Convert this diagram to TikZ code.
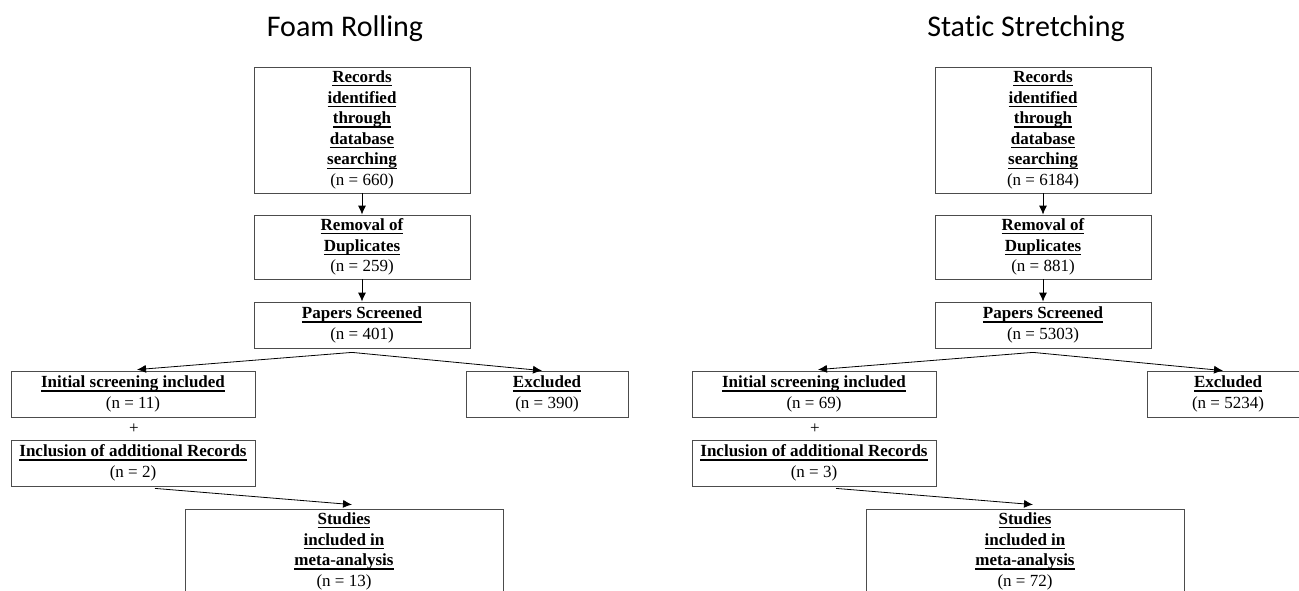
\documentclass[tikz,border=0pt]{standalone}
\usepackage{fontspec}
\setmainfont{Liberation Serif}
\newfontfamily\titlefont[Ligatures=NoCommon]{Carlito}
\usetikzlibrary{arrows.meta, positioning, calc}
\newcommand{\hd}[1]{{\bfseries\setbox0\hbox{#1}\rlap{\rule[-3.8pt]{\wd0}{1.2pt}}\box0}}

\begin{document}
\begin{tikzpicture}[
        x=1pt, y=-1pt,
        box/.style={draw=black!70, line width=0.8pt, align=center, inner sep=0pt, font=\fontsize{17}{20.6}\selectfont},
        heading/.style={anchor=base, font=\titlefont\fontsize{30}{36}\selectfont},
        plus/.style={font=\fontsize{17}{20}\selectfont},
        arrow/.style={-{Latex[length=9pt, width=8pt]}, line width=0.8pt}
        ]
        \useasboundingbox (0,0) rectangle (1299,590);

        % foam rolling
        \node[heading] (fr-title) at (345,36) {Foam Rolling};
        \node[box, minimum width=216pt, minimum height=126pt] (fr-records) at (362,130) {\hd{Records}\\\hd{identified}\\\hd{through}\\\hd{database}\\\hd{searching}\\(n = 660)};
        \node[box, minimum width=216pt, minimum height=64pt] (fr-removal) at (362,247) {\hd{Removal of}\\\hd{Duplicates}\\(n = 259)};
        \node[box, minimum width=216pt, minimum height=46pt] (fr-papers) at (362,325) {\hd{Papers Screened}\\(n = 401)};
        \node[box, minimum width=244pt, minimum height=46pt] (fr-init) at (133,394) {\hd{Initial screening included}\\(n = 11)};
        \node[box, minimum width=162pt, minimum height=46pt] (fr-excl) at (547,394) {\hd{Excluded}\\(n = 390)};
        \node[plus] (fr-plus) at (134,429) {+};
        \node[box, minimum width=244pt, minimum height=46pt] (fr-incl) at (133,463) {\hd{Inclusion of additional Records}\\(n = 2)};
        \node[box, minimum width=318pt, minimum height=85pt] (fr-studies) at (344,551.5) {\hd{Studies}\\\hd{included in}\\\hd{meta-analysis}\\(n = 13)};

        \coordinate (fr-split) at ($(fr-papers.south)+(-10,4)$);
        \draw[arrow] (fr-records) -- (fr-removal);
        \draw[arrow] (fr-removal) -- (fr-papers);
        \draw[arrow] (fr-split) -- ($(fr-init.north)+(4,-1)$);
        \draw[arrow] (fr-split) -- ($(fr-excl.north)+(-5,0)$);
        \draw[arrow] ($(fr-incl.south)+(22,2)$) -- ($(fr-studies.north)+(8,-4)$);

        % static stretching
        \begin{scope}[xshift=681pt]
        \node[heading] (ss-title) at (345,36) {Static Stretching};
        \node[box, minimum width=216pt, minimum height=126pt] (ss-records) at (362,130) {\hd{Records}\\\hd{identified}\\\hd{through}\\\hd{database}\\\hd{searching}\\(n = 6184)};
        \node[box, minimum width=216pt, minimum height=64pt] (ss-removal) at (362,247) {\hd{Removal of}\\\hd{Duplicates}\\(n = 881)};
        \node[box, minimum width=216pt, minimum height=46pt] (ss-papers) at (362,325) {\hd{Papers Screened}\\(n = 5303)};
        \node[box, minimum width=244pt, minimum height=46pt] (ss-init) at (133,394) {\hd{Initial screening included}\\(n = 69)};
        \node[box, minimum width=162pt, minimum height=46pt] (ss-excl) at (547,394) {\hd{Excluded}\\(n = 5234)};
        \node[plus] (ss-plus) at (134,429) {+};
        \node[box, minimum width=244pt, minimum height=46pt] (ss-incl) at (133,463) {\hd{Inclusion of additional Records}\\(n = 3)};
        \node[box, minimum width=318pt, minimum height=85pt] (ss-studies) at (344,551.5) {\hd{Studies}\\\hd{included in}\\\hd{meta-analysis}\\(n = 72)};

        \coordinate (ss-split) at ($(ss-papers.south)+(-10,4)$);
        \draw[arrow] (ss-records) -- (ss-removal);
        \draw[arrow] (ss-removal) -- (ss-papers);
        \draw[arrow] (ss-split) -- ($(ss-init.north)+(4,-1)$);
        \draw[arrow] (ss-split) -- ($(ss-excl.north)+(-5,0)$);
        \draw[arrow] ($(ss-incl.south)+(22,2)$) -- ($(ss-studies.north)+(8,-4)$);
        \end{scope}
    \end{tikzpicture}
\end{document}
